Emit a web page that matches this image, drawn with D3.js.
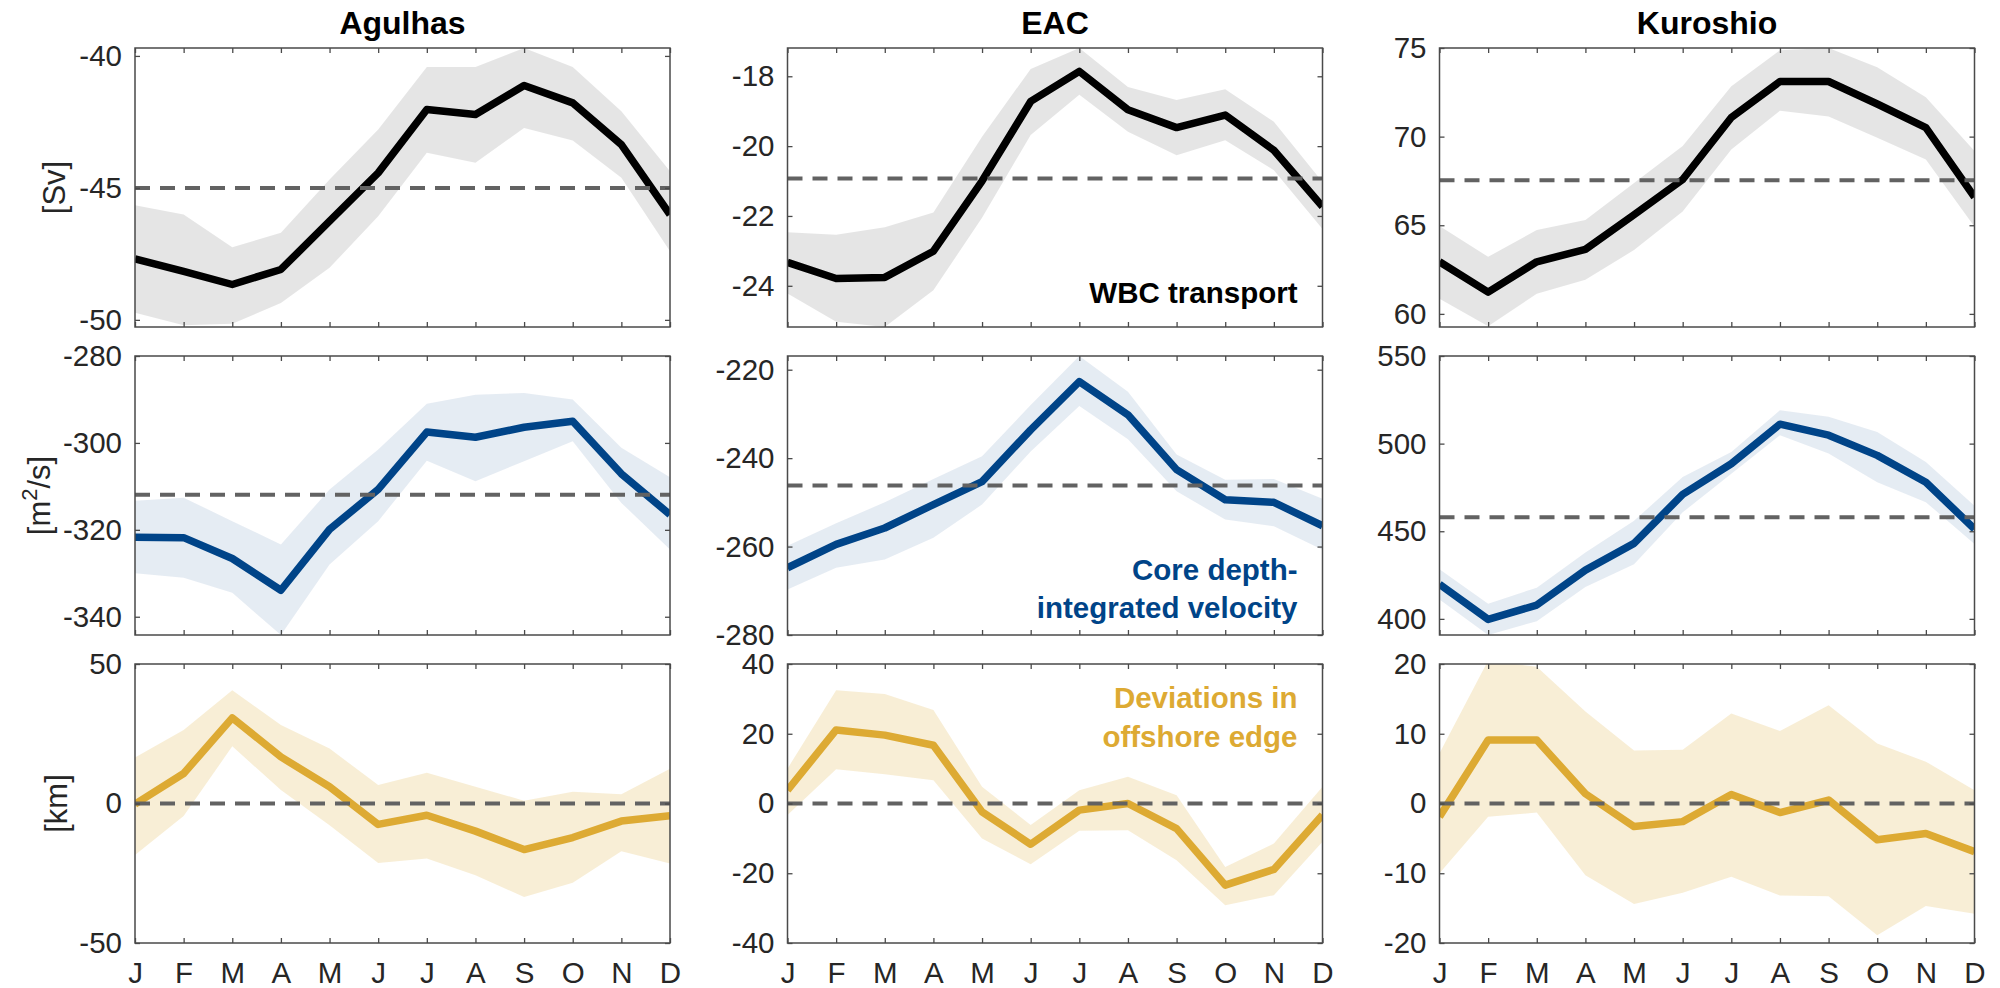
<!DOCTYPE html>
<html>
<head>
<meta charset="utf-8">
<script src="https://cdn.jsdelivr.net/npm/d3@7"></script>
<style>
  body { margin: 0; background: #ffffff; }
  text { font-family: "Liberation Sans", Arial, Helvetica, sans-serif; }
</style>
</head>
<body>
<svg id="chart" width="2000" height="988"></svg>
<script>
// ---- Data: monthly climatology (mean line, upper/lower envelope) ----
const months = ["J", "F", "M", "A", "M", "J", "J", "A", "S", "O", "N", "D"];
const currents = ["Agulhas", "EAC", "Kuroshio"];

// WBC transport [Sv]
const agulhasTransport   = [-47.69, -48.16, -48.66, -48.09, -46.26, -44.43, -42.03, -42.22, -41.12, -41.78, -43.36, -46.01];
const agulhasTransportHi = [-45.66, -46.01, -47.25, -46.70, -44.68, -42.79, -40.42, -40.42, -39.70, -40.42, -42.10, -44.37];
const agulhasTransportLo = [-49.73, -50.20, -50.15, -49.36, -48.03, -46.07, -43.67, -44.05, -42.73, -43.20, -44.62, -47.40];
const eacTransport       = [-23.33, -23.79, -23.76, -23.01, -21.00, -18.72, -17.86, -18.96, -19.47, -19.11, -20.12, -21.73];
const eacTransportHi     = [-22.47, -22.54, -22.32, -21.90, -19.73, -17.79, -17.19, -18.31, -18.68, -18.37, -19.30, -21.03];
const eacTransportLo     = [-24.22, -25.03, -25.18, -24.13, -22.05, -19.68, -18.53, -19.59, -20.26, -19.83, -20.69, -22.37];
const kuroTransport      = [62.94, 61.23, 62.94, 63.64, 65.59, 67.58, 71.08, 73.11, 73.11, 71.84, 70.51, 66.59];
const kuroTransportHi    = [64.96, 63.22, 64.73, 65.30, 67.39, 69.47, 72.84, 74.87, 75.00, 73.92, 72.22, 69.19];
const kuroTransportLo    = [60.85, 59.30, 61.14, 61.93, 63.60, 65.78, 69.28, 71.46, 71.14, 69.94, 68.71, 64.92];
const transportMeans     = [-45.0, -20.93, 67.54];
const transportLimits    = [[-50.27, -39.70], [-25.18, -17.19], [59.26, 75]];
const transportTicks     = [[-50, -45, -40], [-24, -22, -20, -18], [60, 65, 70, 75]];

// Core depth-integrated velocity [m^2/s]
const agulhasVelocity    = [-321.7, -321.8, -326.6, -333.9, -319.9, -310.7, -297.5, -298.7, -296.4, -295.0, -307.1, -316.5];
const agulhasVelocityHi  = [-313.3, -312.6, -318.0, -323.4, -310.7, -301.5, -291.0, -288.9, -288.5, -290.0, -301.1, -307.9];
const agulhasVelocityLo  = [-330.0, -331.0, -334.5, -344.2, -328.0, -318.0, -304.1, -308.8, -304.2, -299.6, -313.8, -324.5];
const eacVelocity        = [-264.8, -259.5, -255.8, -250.5, -245.3, -233.6, -222.7, -230.2, -242.6, -249.4, -250.0, -255.3];
const eacVelocityHi      = [-259.8, -254.7, -250.0, -244.7, -239.6, -228.0, -216.9, -225.0, -239.2, -244.9, -244.7, -249.2];
const eacVelocityLo      = [-269.7, -264.8, -262.9, -258.0, -250.5, -238.5, -228.2, -235.7, -247.5, -253.9, -255.4, -260.7];
const kuroVelocity       = [419.7, 399.7, 407.9, 427.8, 443.1, 471.0, 488.5, 511.1, 504.8, 493.3, 478.0, 451.3];
const kuroVelocityHi     = [428.3, 408.7, 417.8, 437.9, 456.0, 480.9, 495.2, 519.1, 515.3, 506.7, 489.5, 464.6];
const kuroVelocityLo     = [411.1, 390.8, 398.7, 418.2, 431.2, 460.8, 482.8, 504.8, 494.3, 478.0, 466.6, 442.7];
const velocityMeans      = [-311.9, -246.2, 458.0];
const velocityLimits     = [[-344.2, -280], [-280, -216.9], [390.8, 550]];
const velocityTicks      = [[-340, -320, -300, -280], [-280, -260, -240, -220], [400, 450, 500, 550]];

// Deviations in offshore edge [km]
const agulhasEdge        = [-0.2, 10.75, 30.7, 16.7, 6.0, -7.5, -4.2, -9.9, -16.5, -12.2, -6.3, -4.4];
const agulhasEdgeHi      = [16.5, 26.3, 40.6, 28.1, 19.7, 6.6, 11.0, 6.0, 1.0, 4.2, 3.3, 12.5];
const agulhasEdgeLo      = [-18.5, -4.5, 20.5, 4.8, -7.8, -21.3, -19.7, -25.7, -33.5, -28.4, -17.1, -21.5];
const eacEdge            = [3.8, 21.1, 19.6, 16.7, -2.4, -11.7, -1.9, 0.0, -7.2, -23.4, -18.9, -3.3];
const eacEdgeHi          = [10.0, 32.5, 31.4, 26.8, 4.8, -6.2, 3.8, 7.7, 2.4, -18.2, -11.5, 4.8];
const eacEdgeLo          = [-3.3, 9.8, 8.4, 6.7, -10.0, -17.4, -7.8, -7.7, -16.3, -29.2, -26.3, -11.0];
const kuroEdge           = [-1.9, 9.1, 9.1, 1.4, -3.3, -2.6, 1.3, -1.3, 0.5, -5.2, -4.3, -6.9];
const kuroEdgeHi         = [7.2, 20.5, 19.6, 13.2, 7.6, 7.7, 12.9, 10.4, 14.1, 8.6, 6.0, 1.9];
const kuroEdgeLo         = [-10.0, -1.9, -1.3, -10.3, -14.4, -12.8, -10.5, -13.2, -13.3, -18.9, -14.7, -15.8];
const edgeMeans          = [0, 0, 0];
const edgeLimits         = [[-50, 50], [-40, 40], [-20, 20]];
const edgeTicks          = [[-50, 0, 50], [-40, -20, 0, 20, 40], [-20, -10, 0, 10, 20]];

// ---- Rows of the figure ----
const rows = [
  { series: [agulhasTransport, eacTransport, kuroTransport],
    hi: [agulhasTransportHi, eacTransportHi, kuroTransportHi],
    lo: [agulhasTransportLo, eacTransportLo, kuroTransportLo],
    means: transportMeans, limits: transportLimits, ticks: transportTicks,
    color: "#000000", bandOpacity: 0.1,
    unit: ["[Sv]"], unitX: 65,
    note: ["WBC transport"], noteY: [303] },
  { series: [agulhasVelocity, eacVelocity, kuroVelocity],
    hi: [agulhasVelocityHi, eacVelocityHi, kuroVelocityHi],
    lo: [agulhasVelocityLo, eacVelocityLo, kuroVelocityLo],
    means: velocityMeans, limits: velocityLimits, ticks: velocityTicks,
    color: "#004488", bandOpacity: 0.1,
    unit: null, unitX: 50,
    note: ["Core depth-", "integrated velocity"], noteY: [580, 618] },
  { series: [agulhasEdge, eacEdge, kuroEdge],
    hi: [agulhasEdgeHi, eacEdgeHi, kuroEdgeHi],
    lo: [agulhasEdgeLo, eacEdgeLo, kuroEdgeLo],
    means: edgeMeans, limits: edgeLimits, ticks: edgeTicks,
    color: "#DDAA33", bandOpacity: 0.2,
    unit: ["[km]"], unitX: 67,
    note: ["Deviations in", "offshore edge"], noteY: [708, 747] }
];

// ---- Layout ----
const colLeft = [135, 787.5, 1439.5];
const rowTop = [48, 356, 664];
const panelW = 535;
const panelH = 279;
const axisColor = "#262626";
const frameColor = "#4a4a4a";

const svg = d3.select("#chart");

const x = d3.scaleLinear().domain([1, 12]).range([0, panelW]);

rows.forEach((row, r) => {
  currents.forEach((name, c) => {
    const g = svg.append("g")
      .attr("transform", `translate(${colLeft[c]},${rowTop[r]})`);

    const y = d3.scaleLinear().domain(row.limits[c]).range([panelH, 0]);

    const clipId = `clip-${r}-${c}`;
    g.append("clipPath").attr("id", clipId)
      .append("rect").attr("width", panelW).attr("height", panelH);

    const plot = g.append("g").attr("clip-path", `url(#${clipId})`);

    const idx = d3.range(months.length);

    // envelope
    const area = d3.area()
      .x(i => x(i + 1))
      .y0(i => y(row.lo[c][i]))
      .y1(i => y(row.hi[c][i]));
    plot.append("path")
      .attr("d", area(idx))
      .attr("fill", row.color)
      .attr("fill-opacity", row.bandOpacity)
      .attr("stroke", "none");

    // monthly mean line
    const line = d3.line()
      .x(i => x(i + 1))
      .y(i => y(row.series[c][i]));
    plot.append("path")
      .attr("d", line(idx))
      .attr("fill", "none")
      .attr("stroke", row.color)
      .attr("stroke-width", 7.5)
      .attr("stroke-linejoin", "round");

    // annual mean reference
    plot.append("line")
      .attr("x1", 0).attr("x2", panelW)
      .attr("y1", y(row.means[c])).attr("y2", y(row.means[c]))
      .attr("stroke", "#626262")
      .attr("stroke-width", 4)
      .attr("stroke-dasharray", "15,10");

    // axes with inward ticks on all four sides
    const tickFmt = d => String(d);
    const left = g.append("g")
      .call(d3.axisLeft(y).tickValues(row.ticks[c]).tickSize(-5).tickPadding(13).tickFormat(tickFmt));
    const right = g.append("g").attr("transform", `translate(${panelW},0)`)
      .call(d3.axisRight(y).tickValues(row.ticks[c]).tickSize(-5).tickFormat(""));
    const top = g.append("g")
      .call(d3.axisTop(x).tickValues(d3.range(1, 13)).tickSize(-5).tickFormat(""));
    const bottom = g.append("g").attr("transform", `translate(0,${panelH})`)
      .call(d3.axisBottom(x).tickValues(d3.range(1, 13)).tickSize(-5).tickPadding(19)
        .tickFormat(r === rows.length - 1 ? (d => months[d - 1]) : ""));

    [left, right, top, bottom].forEach(ax => {
      ax.select(".domain").remove();
      ax.selectAll(".tick line").attr("stroke", frameColor).attr("stroke-width", 1.3);
      ax.selectAll(".tick text")
        .attr("fill", axisColor)
        .style("font-size", "29.5px")
        .style("font-family", "'Liberation Sans', Arial, sans-serif");
    });

    // box
    g.append("rect")
      .attr("width", panelW).attr("height", panelH)
      .attr("fill", "none")
      .attr("stroke", frameColor)
      .attr("stroke-width", 1.5);

    // column titles
    if (r === 0) {
      svg.append("text")
        .attr("x", colLeft[c] + panelW / 2)
        .attr("y", 34)
        .attr("text-anchor", "middle")
        .style("font-size", "32px")
        .style("font-weight", "bold")
        .attr("fill", "#000000")
        .text(name);
    }

    // row annotation in the middle column
    if (c === 1) {
      row.note.forEach((t, k) => {
        svg.append("text")
          .attr("x", colLeft[c] + panelW - 25)
          .attr("y", row.noteY[k])
          .attr("text-anchor", "end")
          .style("font-size", "29.5px")
          .style("font-weight", "bold")
          .attr("fill", row.color)
          .text(t);
      });
    }

    // unit label on the first column
    if (c === 0) {
      const lab = svg.append("text")
        .attr("transform", `translate(${row.unitX},${rowTop[r] + panelH / 2}) rotate(-90)`)
        .attr("text-anchor", "middle")
        .attr("fill", axisColor)
        .style("font-size", "31px");
      if (row.unit) {
        lab.text(row.unit[0]);
      } else {
        lab.append("tspan").text("[m");
        lab.append("tspan").attr("dy", -13).style("font-size", "22px").text("2");
        lab.append("tspan").attr("dy", 13).text("/s]");
      }
    }
  });
});
</script>
</body>
</html>
